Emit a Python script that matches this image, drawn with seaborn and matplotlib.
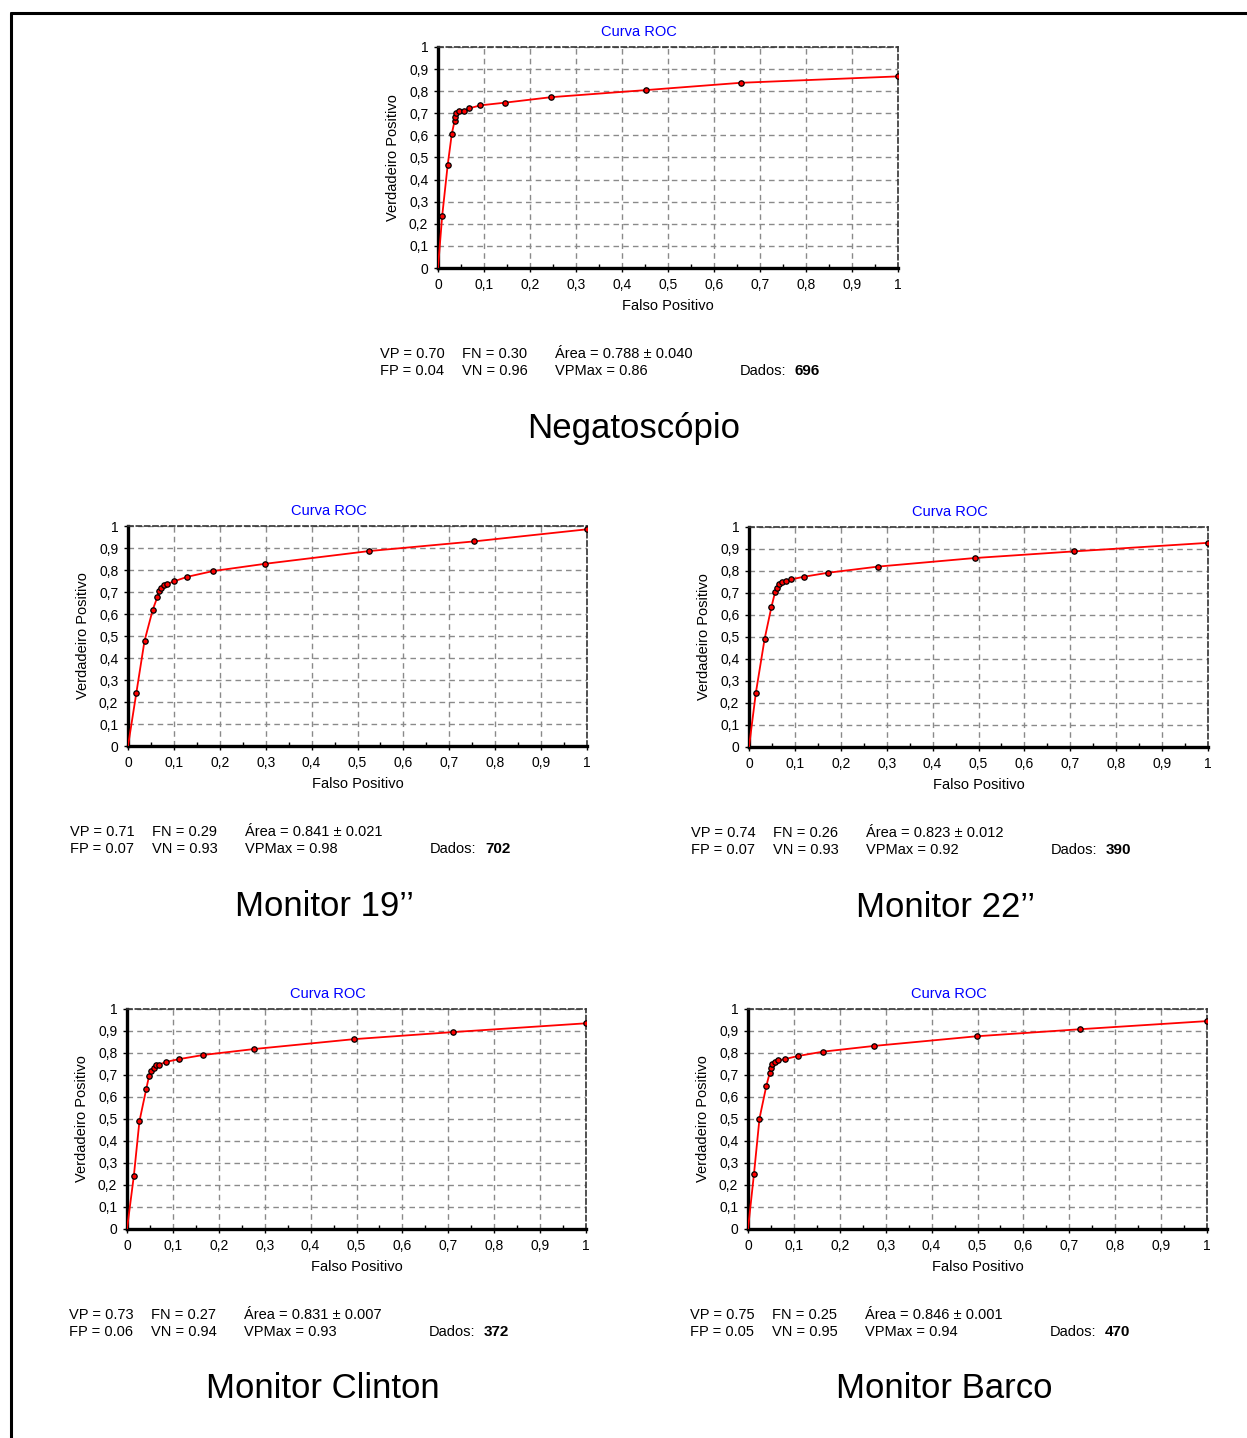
import matplotlib
matplotlib.use("Agg")
import matplotlib.pyplot as plt
import seaborn as sns
import pandas as pd
from matplotlib.lines import Line2D
from matplotlib.ticker import FuncFormatter, MultipleLocator

# ROC points (false positive rate, true positive rate) for each viewing device
fp_negatoscopio = [0.009, 0.021, 0.030, 0.036, 0.037, 0.040, 0.046, 0.056, 0.067, 0.092, 0.145, 0.246, 0.452, 0.658, 1.0]
vp_negatoscopio = [0.234, 0.465, 0.607, 0.665, 0.683, 0.702, 0.710, 0.710, 0.722, 0.736, 0.748, 0.773, 0.805, 0.838, 0.867]

fp_monitor19 = [0.018, 0.036, 0.054, 0.064, 0.068, 0.071, 0.079, 0.086, 0.101, 0.129, 0.185, 0.298, 0.525, 0.754, 1.0]
vp_monitor19 = [0.239, 0.478, 0.620, 0.677, 0.703, 0.718, 0.731, 0.737, 0.749, 0.769, 0.795, 0.828, 0.886, 0.930, 0.985]

fp_monitor22 = [0.015, 0.034, 0.049, 0.057, 0.060, 0.065, 0.072, 0.080, 0.092, 0.120, 0.172, 0.281, 0.492, 0.707, 1.0]
vp_monitor22 = [0.247, 0.491, 0.638, 0.705, 0.721, 0.739, 0.748, 0.756, 0.762, 0.774, 0.792, 0.820, 0.859, 0.889, 0.928]

fp_clinton = [0.015, 0.027, 0.042, 0.048, 0.053, 0.058, 0.063, 0.070, 0.086, 0.113, 0.166, 0.277, 0.495, 0.710, 1.0]
vp_clinton = [0.243, 0.489, 0.637, 0.695, 0.719, 0.734, 0.747, 0.747, 0.760, 0.772, 0.791, 0.818, 0.863, 0.895, 0.935]

fp_barco = [0.013, 0.025, 0.040, 0.047, 0.050, 0.053, 0.058, 0.065, 0.080, 0.108, 0.163, 0.274, 0.498, 0.723, 1.0]
vp_barco = [0.250, 0.502, 0.651, 0.707, 0.733, 0.751, 0.759, 0.766, 0.772, 0.786, 0.806, 0.832, 0.876, 0.908, 0.945]

# Summary statistics shown under each curve
panel_labels = ["Negatoscópio", "Monitor 19’’", "Monitor 22’’", "Monitor Clinton", "Monitor Barco"]
vp_stat = [0.70, 0.71, 0.74, 0.73, 0.75]
fn_stat = [0.30, 0.29, 0.26, 0.27, 0.25]
fp_stat = [0.04, 0.07, 0.07, 0.06, 0.05]
vn_stat = [0.96, 0.93, 0.93, 0.94, 0.95]
area = [0.788, 0.841, 0.823, 0.831, 0.846]
area_err = [0.040, 0.021, 0.012, 0.007, 0.001]
vp_max = [0.86, 0.98, 0.92, 0.93, 0.94]
dados = [696, 702, 390, 372, 470]

curves = [
    (fp_negatoscopio, vp_negatoscopio),
    (fp_monitor19, vp_monitor19),
    (fp_monitor22, vp_monitor22),
    (fp_clinton, vp_clinton),
    (fp_barco, vp_barco),
]

sns.set_style("white")
plt.rcParams['font.family'] = ['Liberation Sans', 'DejaVu Sans']
plt.rcParams['text.color'] = 'black'
plt.rcParams['axes.labelcolor'] = 'black'
plt.rcParams['xtick.color'] = 'black'
plt.rcParams['ytick.color'] = 'black'

W, H = 1247, 1438
fig = plt.figure(figsize=(W / 100, H / 100), dpi=100)

# axes boxes in pixels: left, top, right, bottom
boxes = [(438, 47, 898, 268), (128, 526, 587, 746), (749, 527, 1208, 747),
         (127, 1009, 586, 1229), (748, 1009, 1207, 1229)]


def fx(x):
    return x / W


def fy(y):
    return 1 - y / H


def fmt(v, _):
    if abs(v) < 1e-9:
        return "0"
    if abs(v - 1) < 1e-9:
        return "1"
    return f"{v:.1f}".replace(".", ",")


for i, ((l, t, r, b), (fp, vp)) in enumerate(zip(boxes, curves)):
    ax = fig.add_axes([fx(l), fy(b), (r - l) / W, (b - t) / H])
    line_df = pd.DataFrame({"fp": [0.0] + fp, "vp": [0.0] + vp})
    pts_df = pd.DataFrame({"fp": fp, "vp": vp})
    sns.lineplot(data=line_df, x="fp", y="vp", sort=False, estimator=None,
                 color="#ff0000", lw=1.3, ax=ax, zorder=3)
    sns.scatterplot(data=pts_df, x="fp", y="vp", color="#ff0000", edgecolor="black",
                    linewidth=0.9, s=15, ax=ax, zorder=4)

    ax.set_xlim(0, 1)
    ax.set_ylim(0, 1)
    ax.xaxis.set_major_locator(MultipleLocator(0.1))
    ax.yaxis.set_major_locator(MultipleLocator(0.1))
    ax.xaxis.set_minor_locator(MultipleLocator(0.05))
    ax.xaxis.set_major_formatter(FuncFormatter(fmt))
    ax.yaxis.set_major_formatter(FuncFormatter(fmt))
    ax.grid(True, which="major", ls=(0, (4, 3)), color="#8a8a8a", lw=1)
    ax.tick_params(axis="both", which="major", direction="out", length=3, width=1,
                   labelsize=10, pad=4, colors="black", bottom=True, left=True)
    ax.tick_params(axis="x", which="minor", direction="in", length=3, width=1, bottom=True)

    for side in ("left", "bottom"):
        ax.spines[side].set_linewidth(2.4)
        ax.spines[side].set_color("black")
    for side in ("top", "right"):
        ax.spines[side].set_linewidth(1.2)
        ax.spines[side].set_linestyle((0, (3, 2)))
        ax.spines[side].set_color("#333333")

    ax.set_title("Curva ROC", color="#0000ff", fontsize=10.5, pad=8, x=0.437)
    ax.set_xlabel("Falso Positivo", fontsize=10.5)
    ax.set_ylabel("Verdadeiro Positivo", fontsize=10.5)
    ax.xaxis.set_label_coords(0.5, -38 / (b - t))
    ax.xaxis.label.set_va("center")
    ax.yaxis.set_label_coords(-45 / (r - l), 0.5)
    ax.yaxis.label.set_va("center")

    # statistics block
    y1, y2 = b + 86, b + 103
    fs = 10.5
    fig.text(fx(l - 58), fy(y1), f"VP = {vp_stat[i]:.2f}", fontsize=fs, va="center")
    fig.text(fx(l + 24), fy(y1), f"FN = {fn_stat[i]:.2f}", fontsize=fs, va="center")
    fig.text(fx(l + 117), fy(y1), f"Área = {area[i]:.3f} ± {area_err[i]:.3f}", fontsize=fs, va="center")
    fig.text(fx(l - 58), fy(y2), f"FP = {fp_stat[i]:.2f}", fontsize=fs, va="center")
    fig.text(fx(l + 24), fy(y2), f"VN = {vn_stat[i]:.2f}", fontsize=fs, va="center")
    fig.text(fx(l + 117), fy(y2), f"VPMax = {vp_max[i]:.2f}", fontsize=fs, va="center")
    fig.text(fx(l + 302), fy(y2), "Dados:", fontsize=fs, va="center")
    fig.text(fx(l + 357), fy(y2), f"{dados[i]}", fontsize=11, va="center", fontweight="bold")

    # device name
    fig.text(fx(l + 196), fy(b + 160), panel_labels[i], fontsize=25, ha="center", va="center")

# page frame (top and left edges)
fig.add_artist(Line2D([fx(11), fx(W + 5)], [fy(13), fy(13)], color="black", lw=2.2,
                      transform=fig.transFigure))
fig.add_artist(Line2D([fx(11), fx(11)], [fy(13), fy(H + 5)], color="black", lw=2.2,
                      transform=fig.transFigure))

fig.savefig("out.png", dpi=100, facecolor="white")
